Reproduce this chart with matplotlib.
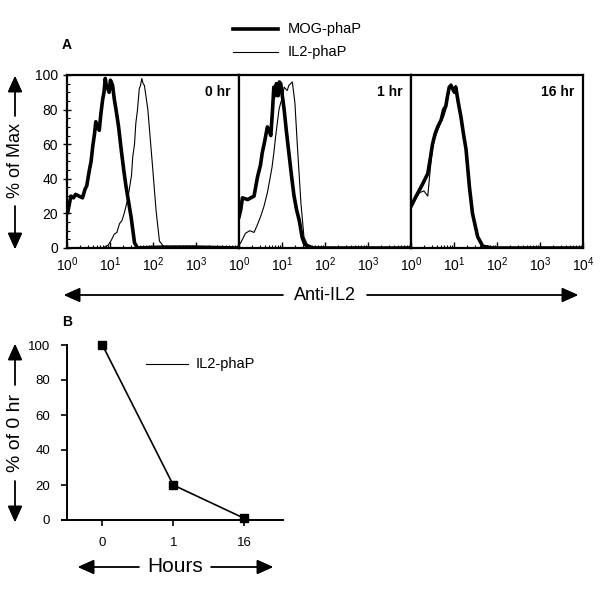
import numpy as np
import matplotlib.pyplot as plt
from matplotlib.ticker import FixedLocator, NullFormatter

plt.rcParams['font.family'] = ['Liberation Sans', 'DejaVu Sans']

# Panel A histograms (x = log10 fluorescence, y = % of max)
mog0_x = [0.0, 0.02, 0.09, 0.15, 0.2, 0.28, 0.36, 0.42, 0.46, 0.52, 0.56, 0.6, 0.64, 0.67, 0.71, 0.75, 0.79,
          0.83, 0.86, 0.89, 0.92, 0.95, 0.98, 1.01, 1.06, 1.1, 1.14, 1.2, 1.26, 1.32, 1.37, 1.43, 1.49, 1.57,
          1.64, 2.2, 3.0, 4.0]
mog0_y = [20, 21, 30, 29, 31, 30, 29, 34, 36, 45, 50, 59, 66, 73, 70, 68, 78,
          86, 90, 98, 93, 92, 90, 97, 94, 86, 80, 70, 57, 45, 36, 27, 18, 3,
          0, 0.5, 0.5, 0]
il20_x = [0.0, 0.83, 0.9, 0.95, 1.02, 1.1, 1.16, 1.22, 1.28, 1.33, 1.4, 1.45, 1.5, 1.53, 1.57, 1.6, 1.64,
          1.68, 1.71, 1.74, 1.77, 1.8, 1.88, 1.94, 1.99, 2.07, 2.15, 2.26, 3.0, 3.5, 4.0]
il20_y = [0, 0, 1, 1.5, 4, 8, 9, 14, 16, 20, 27, 34, 42, 53, 60, 72, 80,
          92, 94, 98, 95, 94, 80, 62, 47, 22, 4, 0.5, 0.5, 0.8, 0]

mog1_x = [0.0, 0.04, 0.08, 0.2, 0.35, 0.43, 0.5, 0.54, 0.6, 0.66, 0.7, 0.74, 0.78, 0.81, 0.84, 0.87, 0.91,
          0.94, 0.97, 1.05, 1.1, 1.16, 1.22, 1.28, 1.34, 1.4, 1.47, 1.53, 1.7, 4.0]
mog1_y = [18, 22, 29, 28, 30, 41, 48, 55, 62, 70, 68, 65, 80, 93, 88, 95, 88,
          96, 95, 80, 68, 55, 42, 30, 22, 16, 6, 2, 0, 0]
il21_x = [0.0, 0.04, 0.1, 0.15, 0.25, 0.35, 0.42, 0.5, 0.58, 0.66, 0.72, 0.77, 0.81, 0.85, 0.89, 0.93, 0.97,
          1.0, 1.05, 1.12, 1.16, 1.2, 1.24, 1.3, 1.36, 1.44, 1.51, 1.59, 1.8, 4.0]
il21_y = [2, 3, 6, 8.5, 10, 9, 13, 18, 24, 32, 40, 47, 55, 64, 72, 80, 84,
          86, 93, 91, 94, 95, 96, 84, 58, 26, 6.5, 2, 0, 0]

mog16_x = [0.0, 0.04, 0.12, 0.25, 0.33, 0.39, 0.45, 0.5, 0.56, 0.62, 0.7, 0.76, 0.81, 0.85, 0.89, 0.93, 0.97,
           1.01, 1.04, 1.1, 1.16, 1.22, 1.28, 1.36, 1.43, 1.55, 1.67, 1.9, 4.0]
mog16_y = [24, 26, 30, 36, 40, 43, 52, 60, 66, 70, 74, 80, 82, 88, 93, 94, 92,
           90, 93, 84, 76, 66, 57, 35, 20, 6.5, 1, 0, 0]
il216_x = [0.0, 0.04, 0.12, 0.2, 0.3, 0.39, 0.45, 0.5, 0.56, 0.62, 0.7, 0.76, 0.81, 0.85, 0.89, 0.93, 0.97,
           1.0, 1.04, 1.1, 1.16, 1.22, 1.28, 1.36, 1.43, 1.55, 1.67, 1.9, 4.0]
il216_y = [24, 25, 29, 32, 33, 30, 46, 58, 64, 68, 73, 76, 80, 86, 92, 95, 93,
           91, 94, 82, 75, 64, 56, 34, 19, 6, 1, 0, 0]

panel_titles = ["0 hr", "1 hr", "16 hr"]
mog_x = [mog0_x, mog1_x, mog16_x]
mog_y = [mog0_y, mog1_y, mog16_y]
il2_x = [il20_x, il21_x, il216_x]
il2_y = [il20_y, il21_y, il216_y]

# Panel B
hours = ["0", "1", "16"]
pct_of_0hr = [100, 20, 1]

fig = plt.figure(figsize=(6, 5.98), dpi=100)

W, H = 600.0, 598.0
left0 = 67 / W
pw = 172 / W
bottomA = 1 - 248 / H
hA = 173 / H

for i in range(3):
    ax = fig.add_axes([left0 + i * pw, bottomA, pw, hA])
    ax.plot(10 ** np.array(mog_x[i]), mog_y[i], color='black', lw=2.6)
    ax.plot(10 ** np.array(il2_x[i]), il2_y[i], color='black', lw=0.8)
    ax.set_xscale('log')
    ax.set_xlim(1, 1e4)
    ax.set_ylim(0, 100)
    for s in ax.spines.values():
        s.set_linewidth(1.6)
    ax.text(0.95, 0.9, panel_titles[i], transform=ax.transAxes, ha='right',
            va='center', fontsize=10, fontweight='bold')
    if i < 2:
        ax.xaxis.set_major_locator(FixedLocator([1, 10, 100, 1000]))
    else:
        ax.xaxis.set_major_locator(FixedLocator([1, 10, 100, 1000, 10000]))
    ax.xaxis.set_minor_locator(FixedLocator(
        [k * 10 ** d for d in range(4) for k in range(2, 10)]))
    ax.xaxis.set_minor_formatter(NullFormatter())
    ax.tick_params(axis='x', which='major', direction='in', length=4, width=1,
                   labelsize=10, pad=5)
    ax.tick_params(axis='x', which='minor', direction='in', length=2, width=0.8)
    if i == 0:
        ax.set_yticks([0, 20, 40, 60, 80, 100])
        ax.yaxis.set_minor_locator(FixedLocator(np.arange(0, 101, 5)))
        ax.tick_params(axis='y', which='major', direction='inout', length=6,
                       width=1, labelsize=10)
        ax.tick_params(axis='y', which='minor', direction='in', length=2, width=0.8)
    else:
        ax.set_yticks([])

# legend of panel A
fig.add_artist(plt.Line2D([233 / W, 278 / W], [1 - 29 / H, 1 - 29 / H],
                          color='black', lw=2.6))
fig.add_artist(plt.Line2D([233 / W, 278 / W], [1 - 52 / H, 1 - 52 / H],
                          color='black', lw=0.8))
fig.text(288 / W, 1 - 29 / H, "MOG-phaP", fontsize=10.5, va='center')
fig.text(288 / W, 1 - 52 / H, "IL2-phaP", fontsize=10.5, va='center')
fig.text(62 / W, 1 - 45 / H, "A", fontsize=10, fontweight='bold', va='center')

arrow = dict(arrowstyle='-|>,head_length=1.0,head_width=0.45', color='black',
             lw=1, shrinkA=0, shrinkB=0)


def arrow_label(text, cx, cy, lo, hi, half, vertical, size):
    # text with arrows on both sides, all in figure pixels from top-left
    if vertical:
        fig.text(cx / W, 1 - cy / H, text, rotation=90, ha='center',
                 va='center', fontsize=size)
        fig.add_artist(plt.annotate('', xy=(cx / W, 1 - lo / H),
                                    xytext=(cx / W, 1 - (cy - half) / H),
                                    xycoords='figure fraction', arrowprops=arrow))
        fig.add_artist(plt.annotate('', xy=(cx / W, 1 - hi / H),
                                    xytext=(cx / W, 1 - (cy + half) / H),
                                    xycoords='figure fraction', arrowprops=arrow))
    else:
        fig.text(cx / W, 1 - cy / H, text, ha='center', va='center', fontsize=size)
        fig.add_artist(plt.annotate('', xy=(lo / W, 1 - cy / H),
                                    xytext=((cx - half) / W, 1 - cy / H),
                                    xycoords='figure fraction', arrowprops=arrow))
        fig.add_artist(plt.annotate('', xy=(hi / W, 1 - cy / H),
                                    xytext=((cx + half) / W, 1 - cy / H),
                                    xycoords='figure fraction', arrowprops=arrow))


arrow_label("% of Max", 15, 161, 76, 249, 45, True, 13)
arrow_label("Anti-IL2", 325, 295, 64, 578, 42, False, 13)

# Panel B
axb = fig.add_axes([left0, 1 - 520 / H, 216 / W, 175 / H])
xb = np.arange(len(hours))
axb.plot(xb, pct_of_0hr, color='black', lw=1.2, marker='s', markersize=6,
         clip_on=False, label='IL2-phaP')
axb.set_xlim(-0.5, 2.55)
axb.set_ylim(0, 100)
axb.set_xticks(xb)
axb.set_xticklabels(hours)
axb.set_yticks([0, 20, 40, 60, 80, 100])
axb.spines['top'].set_visible(False)
axb.spines['right'].set_visible(False)
axb.spines['left'].set_linewidth(1.4)
axb.spines['bottom'].set_linewidth(1.4)
axb.spines['bottom'].set_bounds(-0.57, 2.55)
axb.tick_params(direction='out', length=4, width=1.2, labelsize=9.5, pad=8)
fig.add_artist(plt.Line2D([146 / W, 188 / W], [1 - 364 / H, 1 - 364 / H],
                          color='black', lw=0.8))
fig.text(196 / W, 1 - 364 / H, "IL2-phaP", fontsize=10.5, va='center')
fig.text(62 / W, 1 - 322 / H, "B", fontsize=10, fontweight='bold', va='center')

arrow_label("% of 0 hr", 15, 433, 344, 522, 48, True, 14)
arrow_label("Hours", 175, 567, 78, 273, 36, False, 15)

plt.savefig("out.png", dpi=100)
